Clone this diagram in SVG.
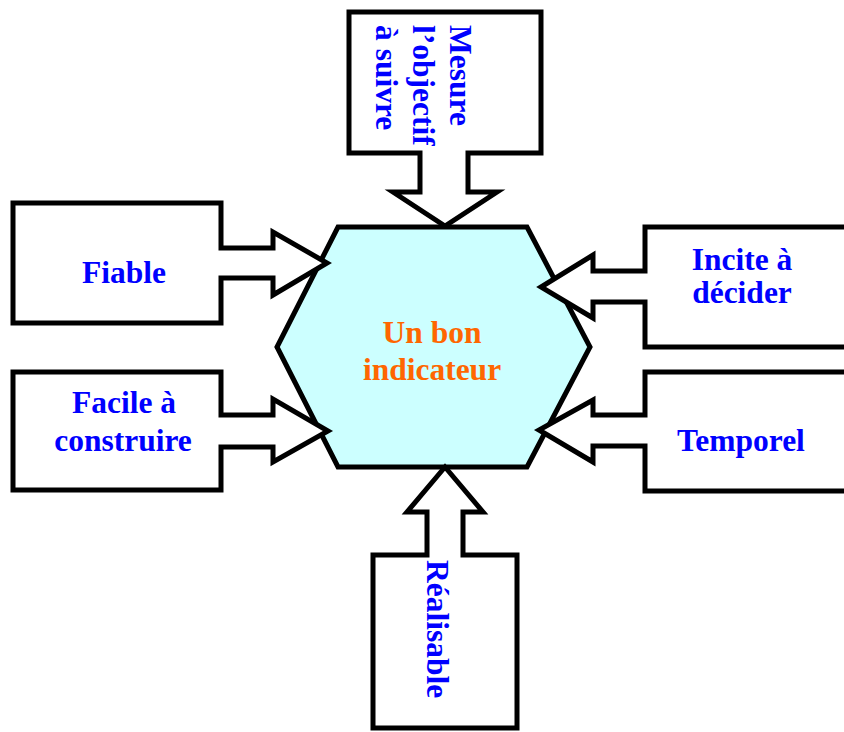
<svg xmlns="http://www.w3.org/2000/svg" width="844" height="732" viewBox="0 0 844 732">
<style>
.shape{fill:#ffffff;stroke:#000000;stroke-width:5;stroke-linejoin:miter;stroke-miterlimit:10}
.hex{fill:#ccffff;stroke:#000000;stroke-width:5;stroke-linejoin:miter}
.lbl{font-family:"Liberation Serif","Times New Roman",serif;font-weight:bold;font-size:31.5px;fill:#0000ff}
.mid{text-anchor:middle}
.center{font-family:"Liberation Serif","Times New Roman",serif;font-weight:bold;font-size:31.5px;fill:#ff6600;text-anchor:middle}
</style>
<rect width="844" height="732" fill="#ffffff"/>
<g id="center-node">
<polygon class="hex" points="338,227 527,227 590,347 527,467 338,467 277,347"/>
<text class="center" x="432" y="343">Un bon</text>
<text class="center" x="432" y="380">indicateur</text>
</g>
<g id="node-mesure">
<path class="shape" d="M349,12 H541 V153 H468 V192 H497 L445,226 L393,192 H420 V153 H349 Z"/>
<text class="lbl" transform="translate(450,25) rotate(90)"><tspan x="0" y="0">Mesure</tspan><tspan x="0" y="37">l’objectif</tspan><tspan x="0" y="74">à suivre</tspan></text>
</g>
<g id="node-fiable">
<path class="shape" d="M13,203 H221 V248 H273 V232 L327,263 L273,295 V278 H221 V323 H13 Z"/>
<text class="lbl mid" x="124" y="283">Fiable</text>
</g>
<g id="node-facile">
<path class="shape" d="M13,372 H221 V415 H273 V399 L328,431 L273,462 V447 H221 V490 H13 Z"/>
<text class="lbl mid" x="124" y="413">Facile à</text>
<text class="lbl mid" x="123" y="451">construire</text>
</g>
<g id="node-incite">
<path class="shape" d="M645,227 H860 V347 H645 V302 H593 V318 L541,287 L593,255 V271 H645 Z"/>
<text class="lbl mid" x="742" y="270">Incite à</text>
<text class="lbl mid" x="742" y="303">décider</text>
</g>
<g id="node-temporel">
<path class="shape" d="M645,372 H860 V491 H645 V446 H593 V462 L539,430 L593,400 V415 H645 Z"/>
<text class="lbl mid" x="741" y="451">Temporel</text>
</g>
<g id="node-realisable">
<path class="shape" d="M373,555 H427 V512 H407 L445,467 L483,512 H463 V555 H517 V728 H373 Z"/>
<text class="lbl" transform="translate(427,560) rotate(90)" x="0" y="0">Réalisable</text>
</g>
</svg>
